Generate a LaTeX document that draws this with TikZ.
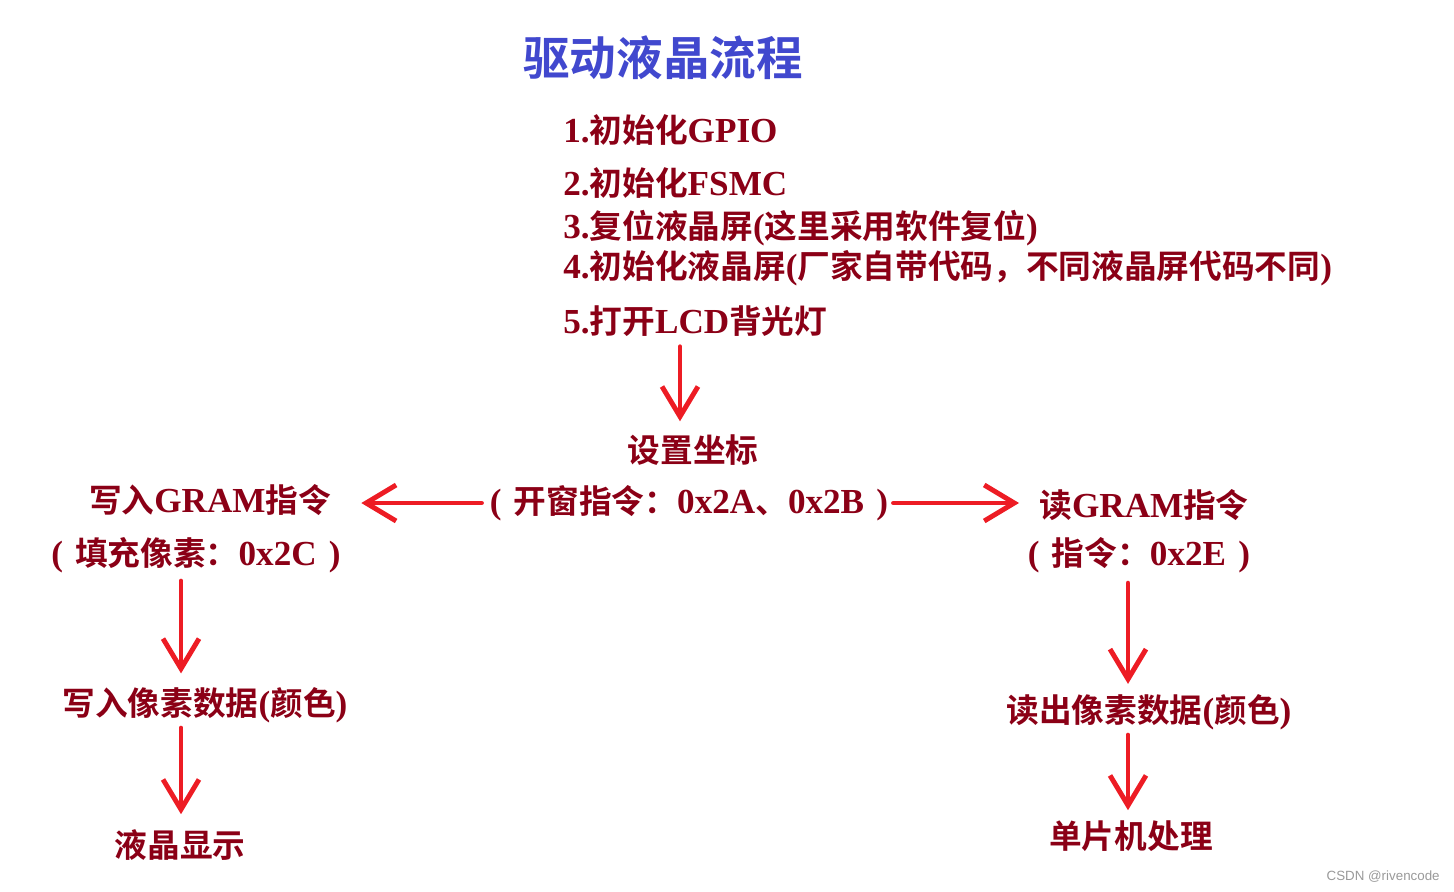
\documentclass[tikz,border=0pt]{standalone}
\usepackage{fontspec}
\setmainfont{Liberation Serif}[UprightFont=* Bold]
\setsansfont{Liberation Sans}
\newfontfamily\cjk{Noto Sans CJK SC}[UprightFont=* Bold, Scale=0.93]
\newcommand{\zh}[1]{{\cjk #1}}
\newcommand{\lpar}{(\hspace{7pt}}
\newcommand{\rpar}{\hspace{7pt})}
\usepackage{xcolor}
\usetikzlibrary{arrows.meta, positioning}
\definecolor{txtred}{RGB}{139,0,22}
\definecolor{ttlblue}{RGB}{65,72,206}
\definecolor{arrred}{RGB}{237,28,36}
\tikzset{
  ttl/.style={text=ttlblue, font=\fontsize{28.5}{34}\selectfont\cjk, inner sep=0pt},
  item/.style={text=txtred, font=\fontsize{20}{24}\selectfont, inner sep=0pt, anchor=west},
  lbl/.style={text=txtred, font=\fontsize{20}{24}\selectfont, inner sep=0pt},
  wmark/.style={text=black!40, font=\sffamily\fontsize{7.6}{9}\selectfont, inner sep=0pt, anchor=east},
  arrow/.style={-{Straight Barb[length=6mm, width=7.2mm]}, line width=2.8pt, draw=arrred, line cap=round},
}

\begin{document}
\begin{tikzpicture}[x=0.02cm, y=-0.02cm]
\useasboundingbox (0,0) rectangle (1454,892);
\node[ttl] (title) at (663,58) {驱动液晶流程};
\node[item] (l1) at (563,130) {1.\zh{初始化}GPIO};
\node[item] (l2) at (563,183) {2.\zh{初始化}FSMC};
\node[item] (l3) at (563,228) {3.\zh{复位液晶屏}(\zh{这里采用软件复位})};
\node[item] (l4) at (563,268) {4.\zh{初始化液晶屏}(\zh{厂家自带代码，不同液晶屏代码不同})};
\node[item] (l5) at (563,321) {5.\zh{打开}LCD\zh{背光灯}};
\node[lbl] (setpos) at (693,450) {\zh{设置坐标}};
\node[lbl] (window) at (689,503) {\lpar\zh{开窗指令：}0x2A\zh{、}0x2B\rpar};
\node[lbl] (gramw) at (210,500) {\zh{写入}GRAM\zh{指令}};
\node[lbl] (fillpx) at (196,555) {\lpar\zh{填充像素：}0x2C\rpar};
\node[lbl] (wpix) at (205,705) {\zh{写入像素数据}(\zh{颜色})};
\node[lbl] (lcd) at (180,845) {\zh{液晶显示}};
\node[lbl] (gramr) at (1144,505) {\zh{读}GRAM\zh{指令}};
\node[lbl] (rdcmd) at (1139,555) {\lpar\zh{指令：}0x2E\rpar};
\node[lbl] (rpix) at (1149,712) {\zh{读出像素数据}(\zh{颜色})};
\node[lbl] (mcu) at (1131,836) {\zh{单片机处理}};
\node[wmark] (wm) at (1440,877) {CSDN @rivencode};
% arrow columns
\coordinate (cmid) at (680,0);
\coordinate (cleft) at (181,0);
\coordinate (cright) at (1128,0);
\draw[arrow, shorten <=0.2cm, shorten >=0.26cm] (l5.south -| cmid) -- (setpos.north -| cmid);
\draw[arrow, shorten <=0.16cm, shorten >=0.6cm] (window.west) -- (window.west -| gramw.east);
\draw[arrow, shorten <=0.1cm, shorten >=0.4cm] (window.east) -- (window.east -| gramr.west);
\draw[arrow, shorten <=0.16cm, shorten >=0.27cm] (fillpx.south -| cleft) -- (wpix.north -| cleft);
\draw[arrow, shorten <=0.1cm, shorten >=0.3cm] (wpix.south -| cleft) -- (lcd.north -| cleft);
\draw[arrow, shorten <=0.2cm, shorten >=0.2cm] (rdcmd.south -| cright) -- (rpix.north -| cright);
\draw[arrow, shorten <=0.1cm, shorten >=0.2cm] (rpix.south -| cright) -- (mcu.north -| cright);
\end{tikzpicture}
\end{document}
